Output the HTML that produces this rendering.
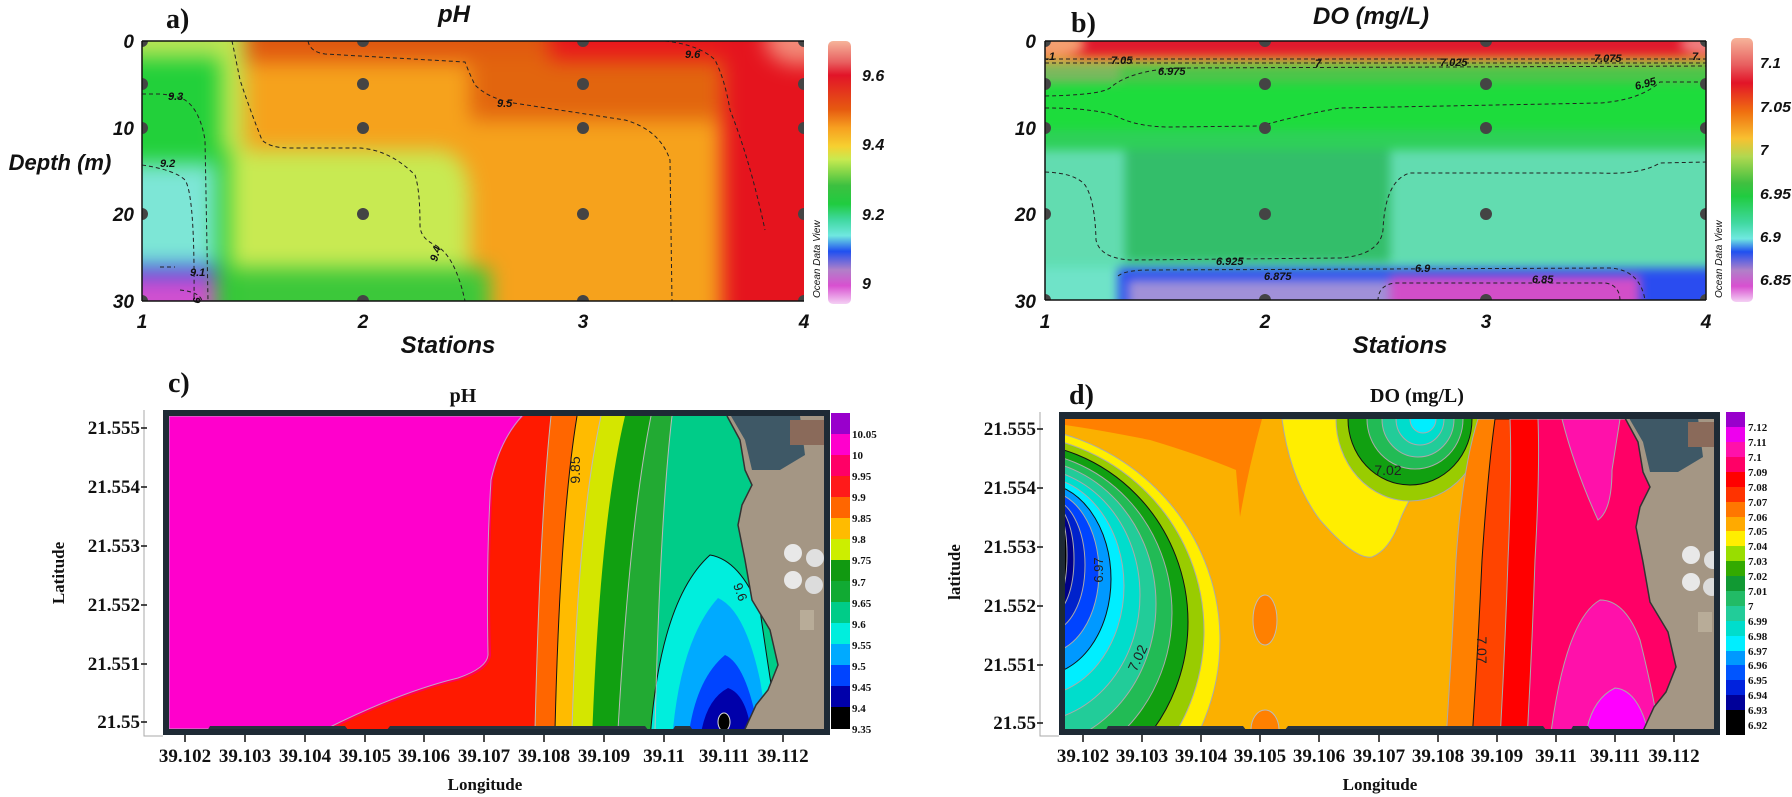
<!DOCTYPE html>
<html><head><meta charset="utf-8"><style>
html,body{margin:0;padding:0;background:#fff;overflow:hidden;width:1792px;height:797px}
svg{display:block}
.ax{font-family:"Liberation Sans",sans-serif;font-weight:bold;font-style:italic;fill:#111}
.sr{font-family:"Liberation Serif",serif;font-weight:bold;fill:#111}
.blA{filter:blur(10px)}
.blB{filter:blur(5px)}
</style></head><body>
<svg width="1792" height="797" viewBox="0 0 1792 797" xmlns="http://www.w3.org/2000/svg">
<defs>
<clipPath id="ca"><rect x="142" y="41" width="662" height="260"/></clipPath>
<clipPath id="cb"><rect x="1045" y="41" width="661" height="259"/></clipPath>
<clipPath id="cc"><rect x="169" y="416" width="655" height="313"/></clipPath>
<clipPath id="cd"><rect x="1065" y="419" width="649" height="310"/></clipPath>
<linearGradient id="ga" x1="0" y1="0" x2="0" y2="1">
<stop offset="0" stop-color="#f6b49a"/><stop offset="0.08" stop-color="#e86060"/><stop offset="0.13" stop-color="#e21428"/>
<stop offset="0.26" stop-color="#e65a10"/><stop offset="0.33" stop-color="#f7a020"/><stop offset="0.4" stop-color="#f6d030"/>
<stop offset="0.45" stop-color="#c8ea50"/><stop offset="0.55" stop-color="#3cc040"/><stop offset="0.62" stop-color="#20cc40"/>
<stop offset="0.68" stop-color="#40d8a0"/><stop offset="0.74" stop-color="#70e8e0"/><stop offset="0.8" stop-color="#2050f0"/>
<stop offset="0.87" stop-color="#b080c8"/><stop offset="0.93" stop-color="#d850d0"/><stop offset="1" stop-color="#f4d0f4"/>
</linearGradient>
<linearGradient id="gb" x1="0" y1="0" x2="0" y2="1">
<stop offset="0" stop-color="#f6b49a"/><stop offset="0.1" stop-color="#e86060"/><stop offset="0.17" stop-color="#e21428"/>
<stop offset="0.28" stop-color="#f07010"/><stop offset="0.38" stop-color="#f8c030"/><stop offset="0.45" stop-color="#b0d850"/>
<stop offset="0.55" stop-color="#40c040"/><stop offset="0.6" stop-color="#20cc40"/><stop offset="0.7" stop-color="#40d8a0"/>
<stop offset="0.76" stop-color="#70e8e0"/><stop offset="0.81" stop-color="#2050f0"/><stop offset="0.88" stop-color="#b080c8"/>
<stop offset="0.94" stop-color="#d850d0"/><stop offset="1" stop-color="#f4d0f4"/>
</linearGradient>
<g id="land">
<polygon points="727,416 824,416 824,729 745,729 756,705 768,690 778,665 770,630 752,600 745,560 738,525 742,505 752,485 745,470 740,440" fill="#a49684"/>
<polygon points="731,416 800,416 805,455 780,470 752,470 745,440" fill="#3e5866"/>
<rect x="790" y="420" width="34" height="25" fill="#8a6a5a"/>
<circle cx="793" cy="553" r="9" fill="#e8e8e8"/><circle cx="815" cy="558" r="9" fill="#e0e0e0"/>
<circle cx="793" cy="580" r="9" fill="#e8e8e8"/><circle cx="814" cy="585" r="9" fill="#dcdcdc"/>
<rect x="800" y="610" width="14" height="20" fill="#b8ac98"/>
<polyline points="727,416 740,440 745,470 752,485 742,505 738,525 745,560 752,600 770,630 778,665 768,690 756,705 745,729" fill="none" stroke="#333" stroke-width="1.5"/>
</g>
<g id="strip">
<polygon points="205,735 210,726 345,726 352,735" fill="#28333e"/>
<polygon points="383,735 390,726 645,726 652,735" fill="#28333e"/>
<polygon points="670,735 675,726 690,726 696,735" fill="#28333e"/>
</g>
</defs>

<!-- ===== Panel a ===== -->
<g clip-path="url(#ca)"><g class="blA">
<rect x="110" y="10" width="730" height="320" fill="#f6a21c"/>
<rect x="235" y="10" width="490" height="52" fill="#e0580f"/>
<rect x="470" y="55" width="250" height="65" fill="#e2650e"/>
<rect x="550" y="10" width="175" height="50" fill="#e8161c"/>
<rect x="722" y="10" width="120" height="320" fill="#e5141e"/>
<ellipse cx="800" cy="40" rx="35" ry="25" fill="#f28a78"/>
<rect x="215" y="10" width="30" height="150" fill="#c0e650"/>
<rect x="110" y="10" width="110" height="48" fill="#b8e455"/>
<rect x="110" y="58" width="110" height="105" fill="#22d03a"/>
<rect x="110" y="163" width="110" height="103" fill="#7de6d6"/>
<rect x="110" y="266" width="110" height="10" fill="#2040e0"/>
<rect x="110" y="276" width="105" height="50" fill="#d050d0"/>
<path d="M222,150 L440,150 Q470,155 470,200 L470,268 L222,268 Z" fill="#c8ea52"/>
<rect x="220" y="268" width="270" height="60" fill="#3cc83a"/>
<rect x="216" y="150" width="14" height="180" fill="#22cc33"/>
</g>
<g fill="none" stroke="#222" stroke-width="1" stroke-dasharray="4,3">
<path d="M232,41 Q235,55 240,80 Q250,110 262,140 Q270,148 290,148 L360,148 Q390,150 415,175 Q420,190 420,225 Q420,238 435,245 Q455,255 465,301"/>
<path d="M142,94 L160,94 Q175,95 185,100 Q200,110 205,140 L208,301"/>
<path d="M142,165 Q175,170 185,180 Q195,195 194,301"/>
<path d="M308,41 Q310,52 325,54 L465,62 Q470,75 475,85 Q490,100 520,104 L625,120 Q660,130 670,160 L672,301"/>
<path d="M665,41 Q700,45 715,60 Q725,80 730,110 Q750,160 765,230"/>
<path d="M160,267 L175,267"/><path d="M180,290 Q200,292 202,301"/>
</g>
<g fill="#444"><circle cx="142" cy="41" r="6"/><circle cx="363" cy="41" r="6"/><circle cx="583" cy="41" r="6"/><circle cx="804" cy="41" r="6"/>
<circle cx="142" cy="84" r="6"/><circle cx="363" cy="84" r="6"/><circle cx="583" cy="84" r="6"/><circle cx="804" cy="84" r="6"/>
<circle cx="142" cy="128" r="6"/><circle cx="363" cy="128" r="6"/><circle cx="583" cy="128" r="6"/><circle cx="804" cy="128" r="6"/>
<circle cx="142" cy="214" r="6"/><circle cx="363" cy="214" r="6"/><circle cx="583" cy="214" r="6"/><circle cx="804" cy="214" r="6"/>
<circle cx="142" cy="301" r="6"/><circle cx="363" cy="301" r="6"/><circle cx="583" cy="301" r="6"/><circle cx="804" cy="301" r="6"/></g>
</g>
<g class="ax" font-size="11"><text x="168" y="100">9.3</text><text x="160" y="167">9.2</text><text x="190" y="276">9.1</text>
<text x="497" y="107">9.5</text><text x="685" y="58">9.6</text><text x="437" y="262" transform="rotate(-75 437 262)">9.4</text><text x="193" y="297" transform="rotate(90 193 297)">9</text></g>
<path d="M142,41 H804 M142,301 H804 M142,41 V301" stroke="#111" stroke-width="1.5" fill="none"/>
<g class="ax" font-size="19" text-anchor="end"><text x="134" y="48">0</text><text x="134" y="135">10</text><text x="134" y="221">20</text><text x="134" y="308">30</text></g>
<g class="ax" font-size="19" text-anchor="middle"><text x="142" y="328">1</text><text x="363" y="328">2</text><text x="583" y="328">3</text><text x="804" y="328">4</text></g>
<text class="ax" x="448" y="353" font-size="24" text-anchor="middle">Stations</text>
<text class="ax" x="60" y="170" font-size="22" text-anchor="middle">Depth (m)</text>
<text class="ax" x="454" y="22" font-size="24" text-anchor="middle">pH</text>
<text class="sr" x="166" y="28" font-size="28">a)</text>
<rect x="828" y="41" width="23" height="263" rx="5" fill="url(#ga)"/>
<g class="ax" font-size="16"><text x="862" y="81">9.6</text><text x="862" y="150">9.4</text><text x="862" y="220">9.2</text><text x="862" y="289">9</text></g>
<text x="820" y="298" font-family="Liberation Sans,sans-serif" font-size="10" font-style="italic" fill="#111" transform="rotate(-90 820 298)">Ocean Data View</text>

<!-- ===== Panel b ===== -->
<g clip-path="url(#cb)"><g class="blB">
<rect x="1015" y="10" width="720" height="320" fill="#3cc86a"/>
<rect x="1015" y="10" width="720" height="48" fill="#e11a2d"/>
<ellipse cx="1055" cy="44" rx="30" ry="12" fill="#f5a070"/>
<ellipse cx="1705" cy="44" rx="25" ry="10" fill="#f08080"/>
<rect x="1015" y="57" width="720" height="6" fill="#f0b030"/>
<rect x="1015" y="63" width="720" height="20" fill="#4ec44a"/>
<rect x="1015" y="63" width="105" height="25" fill="#7ab85e"/>
<rect x="1015" y="83" width="720" height="50" fill="#1ddc3c"/>
<rect x="1015" y="130" width="720" height="22" fill="#2ed058"/>
<rect x="1015" y="150" width="110" height="115" fill="#62dcb0"/>
<rect x="1390" y="150" width="345" height="115" fill="#62dcb0"/>
<rect x="1125" y="150" width="265" height="112" fill="#33be6a"/>
<rect x="1015" y="262" width="720" height="8" fill="#5ee0b4"/>
<rect x="1118" y="268" width="617" height="8" fill="#2a4cf0"/>
<rect x="1015" y="268" width="103" height="60" fill="#6fe3c8"/>
<rect x="1118" y="274" width="272" height="60" fill="#2a4cf0"/>
<rect x="1128" y="280" width="262" height="50" fill="#a090d8"/>
<rect x="1390" y="276" width="250" height="60" fill="#d24ec8"/>
<rect x="1640" y="270" width="95" height="60" fill="#2a4cf0"/>
</g>
<g fill="none" stroke="#222" stroke-width="1" stroke-dasharray="4,3">
<path d="M1045,59 H1706"/><path d="M1045,63 H1706"/>
<path d="M1045,96 Q1100,95 1110,88 Q1130,70 1180,68 L1706,66"/>
<path d="M1045,108 Q1100,108 1120,118 Q1140,127 1170,127 L1260,126 Q1300,115 1340,108 L1600,103 Q1640,100 1660,82 L1706,82"/>
<path d="M1045,172 Q1075,173 1085,185 Q1095,200 1096,240 Q1100,258 1130,260 L1340,258 Q1380,255 1383,230 Q1385,180 1410,173 L1600,173 Q1640,175 1660,163 L1706,162"/>
<path d="M1118,276 Q1125,270 1150,270 L1610,268 Q1640,270 1645,300"/>
<path d="M1378,301 Q1378,285 1395,283 L1605,283 Q1620,285 1620,301"/>
</g>
<g fill="#444"><circle cx="1045" cy="41" r="6"/><circle cx="1265" cy="41" r="6"/><circle cx="1486" cy="41" r="6"/><circle cx="1706" cy="41" r="6"/>
<circle cx="1045" cy="84" r="6"/><circle cx="1265" cy="84" r="6"/><circle cx="1486" cy="84" r="6"/><circle cx="1706" cy="84" r="6"/>
<circle cx="1045" cy="128" r="6"/><circle cx="1265" cy="128" r="6"/><circle cx="1486" cy="128" r="6"/><circle cx="1706" cy="128" r="6"/>
<circle cx="1045" cy="214" r="6"/><circle cx="1265" cy="214" r="6"/><circle cx="1486" cy="214" r="6"/><circle cx="1706" cy="214" r="6"/>
<circle cx="1045" cy="300" r="6"/><circle cx="1265" cy="300" r="6"/><circle cx="1486" cy="300" r="6"/><circle cx="1706" cy="300" r="6"/></g>
</g>
<g class="ax" font-size="11"><text x="1046" y="60">.1</text><text x="1111" y="64">7.05</text><text x="1315" y="67">7</text><text x="1440" y="66">7.025</text>
<text x="1594" y="62">7.075</text><text x="1692" y="60">7.</text><text x="1158" y="75">6.975</text><text x="1636" y="90" transform="rotate(-15 1636 90)">6.95</text>
<text x="1216" y="265">6.925</text><text x="1264" y="280">6.875</text><text x="1415" y="272">6.9</text><text x="1532" y="283">6.85</text></g>
<path d="M1045,41 H1706 M1045,300 H1706 M1045,41 V300 M1706,41 V300" stroke="#111" stroke-width="1.5" fill="none"/>
<g class="ax" font-size="19" text-anchor="end"><text x="1036" y="48">0</text><text x="1036" y="135">10</text><text x="1036" y="221">20</text><text x="1036" y="308">30</text></g>
<g class="ax" font-size="19" text-anchor="middle"><text x="1045" y="328">1</text><text x="1265" y="328">2</text><text x="1486" y="328">3</text><text x="1706" y="328">4</text></g>
<text class="ax" x="1400" y="353" font-size="24" text-anchor="middle">Stations</text>
<text class="ax" x="1371" y="24" font-size="24" text-anchor="middle">DO (mg/L)</text>
<text class="sr" x="1071" y="32" font-size="28">b)</text>
<rect x="1731" y="38" width="22" height="264" rx="5" fill="url(#gb)"/>
<g class="ax" font-size="15"><text x="1760" y="68">7.1</text><text x="1760" y="112" textLength="31" lengthAdjust="spacingAndGlyphs">7.05</text><text x="1760" y="155">7</text><text x="1760" y="199" textLength="31" lengthAdjust="spacingAndGlyphs">6.95</text><text x="1760" y="242">6.9</text><text x="1760" y="285" textLength="31" lengthAdjust="spacingAndGlyphs">6.85</text></g>
<text x="1722" y="298" font-family="Liberation Sans,sans-serif" font-size="10" font-style="italic" fill="#111" transform="rotate(-90 1722 298)">Ocean Data View</text>

<!-- ===== Panel c ===== -->
<rect x="163" y="410" width="667" height="325" fill="#1e2a35"/>
<g clip-path="url(#cc)">
<rect x="169" y="416" width="660" height="320" fill="#00cc88"/>
<path d="M169,416 H672 Q660,520 655,740 H169 Z" fill="#22aa33"/>
<path d="M169,416 H651 Q630,520 618,740 H169 Z" fill="#11a011"/>
<path d="M169,416 H625 Q600,520 592,740 H169 Z" fill="#d4e600"/>
<path d="M169,416 H601 Q578,520 572,740 H169 Z" fill="#ffbb00"/>
<path d="M169,416 H577 Q560,520 555,740 H169 Z" fill="#ff6600"/>
<path d="M169,416 H551 Q540,520 535,740 H169 Z" fill="#ff1a00"/>
<path d="M169,416 H524 Q500,440 493,480 Q488,560 491,655 Q490,670 460,680 Q400,695 330,730 L330,740 H169 Z" fill="#ff0055"/>
<path d="M169,416 H522 Q500,440 491,480 Q486,560 488,655 Q487,668 458,678 Q400,692 326,729 L169,729 Z" fill="#ff00cc" stroke="#c8a0c8" stroke-width="1"/>
<path d="M650,740 Q660,600 710,555 Q740,560 760,610 Q770,680 780,740 Z" fill="#00eedd" stroke="#111" stroke-width="1"/>
<path d="M672,740 Q680,640 718,598 Q745,610 760,680 L770,740 Z" fill="#00aaff"/>
<path d="M688,740 Q695,680 725,655 Q748,665 760,740 Z" fill="#0044ff"/>
<path d="M700,740 Q705,700 728,688 Q748,695 752,740 Z" fill="#0000aa"/>
<ellipse cx="724" cy="722" rx="6" ry="9" fill="#000" stroke="#ddd" stroke-width="1"/>
<g fill="none" stroke="#bbb" stroke-width="1"><path d="M551,416 Q540,520 535,730"/><path d="M601,416 Q578,520 572,730"/><path d="M651,416 Q630,520 618,730"/><path d="M672,416 Q660,520 655,730"/></g>
<path d="M577,416 Q560,520 555,730" fill="none" stroke="#111" stroke-width="1"/>
<use href="#land"/>
<use href="#strip"/>
</g>
<text x="580" y="470" font-family="Liberation Sans,sans-serif" font-size="14" fill="#222" transform="rotate(-90 580 470)" text-anchor="middle">9.85</text>
<text x="733" y="585" font-family="Liberation Sans,sans-serif" font-size="13" fill="#222" transform="rotate(70 733 585)">9.6</text>
<rect x="831" y="413" width="19" height="21" fill="#9900cc"/>
<g><rect x="831" y="434" width="19" height="21.1" fill="#ff00cc"/><rect x="831" y="455" width="19" height="21.1" fill="#ff0066"/>
<rect x="831" y="476" width="19" height="21.1" fill="#ff1a1a"/><rect x="831" y="497" width="19" height="21.1" fill="#ff6600"/>
<rect x="831" y="518" width="19" height="21.1" fill="#ffbb00"/><rect x="831" y="539" width="19" height="21.1" fill="#ccee00"/>
<rect x="831" y="560" width="19" height="21.1" fill="#119911"/><rect x="831" y="581" width="19" height="21.1" fill="#11aa33"/>
<rect x="831" y="602" width="19" height="21.1" fill="#00cc88"/><rect x="831" y="623" width="19" height="21.1" fill="#00eedd"/>
<rect x="831" y="644" width="19" height="21.1" fill="#00aaff"/><rect x="831" y="665" width="19" height="21.1" fill="#0044ff"/>
<rect x="831" y="686" width="19" height="21.1" fill="#0000aa"/><rect x="831" y="707" width="19" height="22" fill="#000"/></g>
<g class="sr" font-size="11"><text x="852" y="438">10.05</text><text x="852" y="459">10</text><text x="852" y="480">9.95</text><text x="852" y="501">9.9</text><text x="852" y="522">9.85</text><text x="852" y="543">9.8</text><text x="852" y="564">9.75</text><text x="852" y="586">9.7</text><text x="852" y="607">9.65</text><text x="852" y="628">9.6</text><text x="852" y="649">9.55</text><text x="852" y="670">9.5</text><text x="852" y="691">9.45</text><text x="852" y="712">9.4</text><text x="852" y="733">9.35</text></g>
<path d="M144,410 V736 H163" stroke="#aaa" stroke-width="1" fill="none"/>
<g stroke="#111" stroke-width="1.5"><path d="M141,428 H147 M141,487 H147 M141,546 H147 M141,605 H147 M141,664 H147 M141,722 H147"/>
<path d="M185,735 V742 M245,735 V742 M305,735 V742 M365,735 V742 M424,735 V742 M484,735 V742 M544,735 V742 M604,735 V742 M664,735 V742 M724,735 V742 M783,735 V742"/></g>
<g class="sr" font-size="19" text-anchor="end"><text x="140" y="434">21.555</text><text x="140" y="493">21.554</text><text x="140" y="552">21.553</text><text x="140" y="611">21.552</text><text x="140" y="670">21.551</text><text x="140" y="728">21.55</text></g>
<g class="sr" font-size="19" text-anchor="middle"><text x="185" y="762">39.102</text><text x="245" y="762">39.103</text><text x="305" y="762">39.104</text><text x="365" y="762">39.105</text><text x="424" y="762">39.106</text><text x="484" y="762">39.107</text><text x="544" y="762">39.108</text><text x="604" y="762">39.109</text><text x="664" y="762">39.11</text><text x="724" y="762">39.111</text><text x="783" y="762">39.112</text></g>
<text class="sr" x="485" y="790" font-size="17" text-anchor="middle">Longitude</text>
<text class="sr" x="64" y="573" font-size="17" text-anchor="middle" transform="rotate(-90 64 573)">Latitude</text>
<text class="sr" x="463" y="402" font-size="20" text-anchor="middle">pH</text>
<text class="sr" x="168" y="392" font-size="28">c)</text>

<!-- ===== Panel d ===== -->
<rect x="1059" y="412" width="661" height="323" fill="#1e2a35"/>
<g clip-path="url(#cd)">
<rect x="1065" y="419" width="660" height="320" fill="#fbb000"/>
<path d="M1065,419 H1262 Q1248,470 1240,517 L1236,470 Q1200,455 1150,440 Q1100,430 1065,425 Z" fill="#ff8000"/>
<ellipse cx="1265" cy="620" rx="12" ry="25" fill="#ff8000" stroke="#bbb"/>
<ellipse cx="1265" cy="730" rx="14" ry="20" fill="#ff8000" stroke="#bbb"/>
<g stroke="#aaa" stroke-width="1">
<ellipse cx="1000" cy="640" rx="220" ry="215" fill="#ffee00"/>
<ellipse cx="1006" cy="631" rx="198" ry="197" fill="#99cc00"/>
<ellipse cx="1012" cy="622" rx="176" ry="180" fill="#11a011" stroke="#111"/>
<ellipse cx="1018" cy="613" rx="154" ry="162" fill="#22bb55"/>
<ellipse cx="1024" cy="604" rx="132" ry="145" fill="#22cc99"/>
<ellipse cx="1030" cy="595" rx="110" ry="127" fill="#00ddcc"/>
<ellipse cx="1036" cy="586" rx="88" ry="110" fill="#00eeff"/>
<ellipse cx="1041" cy="579" rx="70" ry="96" fill="#0099ff" stroke="#111"/>
<ellipse cx="1046" cy="572" rx="53" ry="81" fill="#0044ff"/>
<ellipse cx="1050" cy="565" rx="35" ry="66" fill="#0022cc"/>
<ellipse cx="1054" cy="559" rx="20" ry="53" fill="#000088"/>
<ellipse cx="1058" cy="555" rx="9" ry="42" fill="#000"/>
<path d="M1282,419 Q1290,480 1320,520 Q1355,560 1372,557 Q1390,550 1400,520 Q1420,470 1480,419 Z" fill="#ffee00"/>
<ellipse cx="1410" cy="419" rx="74" ry="82" fill="#99cc00"/>
<ellipse cx="1410" cy="419" rx="62" ry="66" fill="#11a011" stroke="#111"/>
<ellipse cx="1415" cy="419" rx="48" ry="50" fill="#22bb55"/>
<ellipse cx="1418" cy="419" rx="36" ry="38" fill="#22cc99"/>
<ellipse cx="1420" cy="419" rx="24" ry="26" fill="#00ddcc"/>
<ellipse cx="1423" cy="419" rx="13" ry="14" fill="#00eeff"/>
<path d="M1478,419 H1730 V740 H1446 Q1452,650 1456,560 Q1462,470 1478,419 Z" fill="#ff8000"/>
<path d="M1495,419 H1730 V740 H1472 Q1478,650 1482,560 Q1488,470 1495,419 Z" fill="#ff4400" stroke="#111"/>
<path d="M1510,419 H1730 V740 H1500 Q1505,650 1508,560 Q1512,470 1510,419 Z" fill="#ff0000"/>
<path d="M1538,419 H1730 V740 H1527 Q1532,650 1535,560 Q1540,470 1538,419 Z" fill="#ff0066"/>
<path d="M1562,419 Q1575,470 1598,520 Q1612,510 1612,470 L1620,419 Z" fill="#ff11aa"/>
<path d="M1550,740 Q1565,620 1600,600 Q1625,600 1640,640 Q1655,700 1660,740 Z" fill="#ff11aa"/>
<path d="M1585,740 Q1590,700 1615,688 Q1640,690 1650,740 Z" fill="#ff00ff"/>
</g>
<use href="#land" transform="translate(898,2)"/>
<use href="#strip" transform="translate(898,0)"/>
</g>
<text x="1388" y="475" font-family="Liberation Sans,sans-serif" font-size="14" fill="#222" text-anchor="middle">7.02</text>
<text x="1142" y="660" font-family="Liberation Sans,sans-serif" font-size="14" fill="#222" transform="rotate(-65 1142 660)" text-anchor="middle">7.02</text>
<text x="1103" y="570" font-family="Liberation Sans,sans-serif" font-size="13" fill="#222" transform="rotate(-90 1103 570)" text-anchor="middle">6.97</text>
<text x="1477" y="650" font-family="Liberation Sans,sans-serif" font-size="14" fill="#222" transform="rotate(90 1477 650)" text-anchor="middle">7.07</text>
<g>
<rect x="1726" y="412" width="19" height="15" fill="#9900cc"/>
<rect x="1726" y="427" width="19" height="15" fill="#ee00ee"/><rect x="1726" y="442" width="19" height="15" fill="#ff11aa"/>
<rect x="1726" y="457" width="19" height="15" fill="#ff0066"/><rect x="1726" y="472" width="19" height="15" fill="#ff0000"/>
<rect x="1726" y="487" width="19" height="15" fill="#ff3300"/><rect x="1726" y="502" width="19" height="15" fill="#ff7700"/>
<rect x="1726" y="517" width="19" height="15" fill="#ffaa00"/><rect x="1726" y="531" width="19" height="15" fill="#ffee00"/>
<rect x="1726" y="546" width="19" height="15" fill="#99dd00"/><rect x="1726" y="561" width="19" height="15" fill="#33aa00"/>
<rect x="1726" y="576" width="19" height="15" fill="#119933"/><rect x="1726" y="591" width="19" height="15" fill="#22bb66"/>
<rect x="1726" y="606" width="19" height="15" fill="#22cc99"/><rect x="1726" y="621" width="19" height="15" fill="#00ddcc"/>
<rect x="1726" y="636" width="19" height="15" fill="#00eeff"/><rect x="1726" y="651" width="19" height="15" fill="#0099ff"/>
<rect x="1726" y="665" width="19" height="15" fill="#0055ff"/><rect x="1726" y="680" width="19" height="15" fill="#0022dd"/>
<rect x="1726" y="695" width="19" height="15" fill="#000099"/><rect x="1726" y="710" width="19" height="25" fill="#000"/>
</g>
<g class="sr" font-size="11"><text x="1748" y="431">7.12</text><text x="1748" y="446">7.11</text><text x="1748" y="461">7.1</text><text x="1748" y="476">7.09</text><text x="1748" y="491">7.08</text><text x="1748" y="506">7.07</text><text x="1748" y="521">7.06</text><text x="1748" y="535">7.05</text><text x="1748" y="550">7.04</text><text x="1748" y="565">7.03</text><text x="1748" y="580">7.02</text><text x="1748" y="595">7.01</text><text x="1748" y="610">7</text><text x="1748" y="625">6.99</text><text x="1748" y="640">6.98</text><text x="1748" y="655">6.97</text><text x="1748" y="669">6.96</text><text x="1748" y="684">6.95</text><text x="1748" y="699">6.94</text><text x="1748" y="714">6.93</text><text x="1748" y="729">6.92</text></g>
<path d="M1040,412 V736 H1059" stroke="#aaa" stroke-width="1" fill="none"/>
<g stroke="#111" stroke-width="1.5"><path d="M1037,429 H1043 M1037,488 H1043 M1037,547 H1043 M1037,606 H1043 M1037,665 H1043 M1037,723 H1043"/>
<path d="M1083,735 V742 M1142,735 V742 M1201,735 V742 M1260,735 V742 M1319,735 V742 M1379,735 V742 M1438,735 V742 M1497,735 V742 M1556,735 V742 M1615,735 V742 M1674,735 V742"/></g>
<g class="sr" font-size="19" text-anchor="end"><text x="1036" y="435">21.555</text><text x="1036" y="494">21.554</text><text x="1036" y="553">21.553</text><text x="1036" y="612">21.552</text><text x="1036" y="671">21.551</text><text x="1036" y="729">21.55</text></g>
<g class="sr" font-size="19" text-anchor="middle"><text x="1083" y="762">39.102</text><text x="1142" y="762">39.103</text><text x="1201" y="762">39.104</text><text x="1260" y="762">39.105</text><text x="1319" y="762">39.106</text><text x="1379" y="762">39.107</text><text x="1438" y="762">39.108</text><text x="1497" y="762">39.109</text><text x="1556" y="762">39.11</text><text x="1615" y="762">39.111</text><text x="1674" y="762">39.112</text></g>
<text class="sr" x="1380" y="790" font-size="17" text-anchor="middle">Longitude</text>
<text class="sr" x="960" y="572" font-size="17" text-anchor="middle" transform="rotate(-90 960 572)">latitude</text>
<text class="sr" x="1417" y="402" font-size="20" text-anchor="middle">DO (mg/L)</text>
<text class="sr" x="1069" y="404" font-size="28">d)</text>
</svg>
</body></html>
